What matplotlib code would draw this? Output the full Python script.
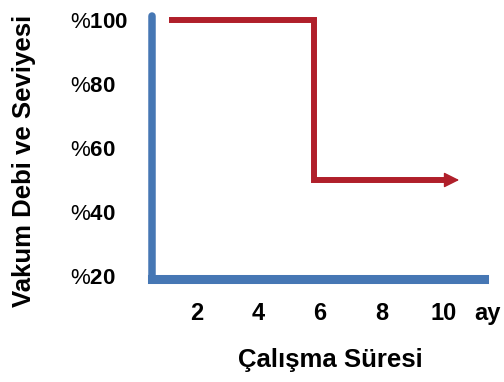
import matplotlib
matplotlib.use("Agg")
import matplotlib.pyplot as plt

# data
months = [1.1, 5.8, 5.8, 10.5]
level = [100, 100, 50, 50]
x_ticks = [2, 4, 6, 8, 10]
y_ticks = [20, 40, 60, 80, 100]
y_tick_labels = ["%" + r"$\mathbf{" + str(v) + "}$" for v in y_ticks]
unit_label = "ay"

blue = "#4677b4"
red = "#b01f2a"

plt.rcParams["font.family"] = ["Liberation Sans", "DejaVu Sans"]
plt.rcParams["mathtext.fontset"] = "custom"
plt.rcParams["mathtext.rm"] = "Liberation Sans"
plt.rcParams["mathtext.bf"] = "Liberation Sans:bold"

fig = plt.figure(figsize=(5.04, 3.82), dpi=100)
ax = fig.add_axes([0.3016, 0.2709, 0.6768, 0.6879])

ax.set_xlim(0.56, 11.6)
ax.set_ylim(19.16, 101.42)

# step line, then the arrow head at its end
ax.plot(months[:-1] + [months[-1] - 0.3], level, color=red, lw=4.3,
        solid_joinstyle="miter", solid_capstyle="butt", clip_on=False)
ax.annotate("", xy=(months[-1], level[-1]), xytext=(months[-1] - 0.4, level[-1]),
            arrowprops=dict(arrowstyle="-|>,head_length=0.94,head_width=0.47",
                            color=red, lw=1, shrinkA=0, shrinkB=0),
            annotation_clip=False)

for s in ["top", "right"]:
    ax.spines[s].set_visible(False)
ax.spines["left"].set_color(blue)
ax.spines["left"].set_linewidth(5.4)
ax.spines["left"].set_capstyle("round")
ax.spines["bottom"].set_color(blue)
ax.spines["bottom"].set_linewidth(6.5)
ax.spines["bottom"].set_capstyle("projecting")
ax.spines["bottom"].set_bounds(0.56, 11.29)

ax.set_xticks(x_ticks + [11.43])
ax.set_xticklabels([str(v) for v in x_ticks] + [unit_label],
                   fontsize=17, fontweight="bold")
ax.set_yticks(y_ticks)
ax.set_yticklabels(y_tick_labels, fontsize=16, ha="left")
ax.tick_params(axis="x", length=0, pad=17)
ax.tick_params(axis="y", length=0, pad=59)

ax.set_ylabel("Vakum Debi ve Seviyesi", fontsize=18.5, fontweight="bold", va="center")
ax.yaxis.set_label_coords(-0.375, 0.447)
ax.set_xlabel("Çalışma Süresi", fontsize=18.5, fontweight="bold", va="center")
ax.xaxis.set_label_coords(0.522, -0.31)

fig.savefig("out.png", dpi=100)
